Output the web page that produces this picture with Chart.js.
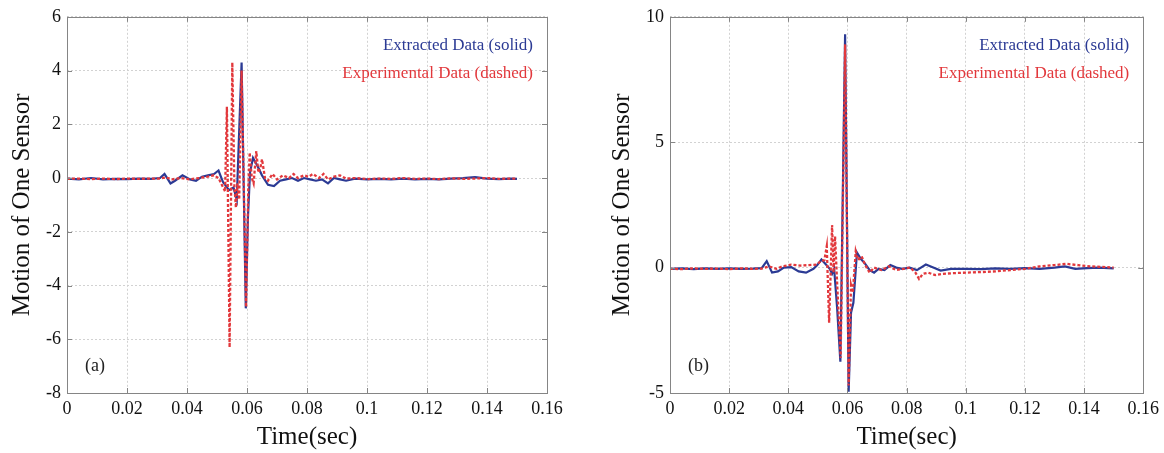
<!DOCTYPE html>
<html>
<head>
<meta charset="utf-8">
<title>Motion of One Sensor</title>
<script src="https://cdn.jsdelivr.net/npm/chart.js@4.4.0/dist/chart.umd.min.js"></script>
<style>
  body { margin: 0; background: #fff; }
  .panel { position: absolute; top: 0; width: 582px; height: 453px; }
  #panelA { left: 0; }
  #panelB { left: 582px; }
</style>
</head>
<body>
<div class="panel" id="panelA"><canvas id="chartA"></canvas></div>
<div class="panel" id="panelB"><canvas id="chartB"></canvas></div>
<script>
// tick values
const timeTicks = [0, 0.02, 0.04, 0.06, 0.08, 0.1, 0.12, 0.14, 0.16];
const yTicksA = [-8, -6, -4, -2, 0, 2, 4, 6];
const yTicksB = [-5, 0, 5, 10];
const legendText = ["Extracted Data (solid)", "Experimental Data (dashed)"];

// (a) extracted data, solid
const timeSolidA = [0, 0.004, 0.008, 0.012, 0.016, 0.02, 0.024, 0.028, 0.031, 0.0325, 0.0345, 0.036, 0.0385, 0.041, 0.043, 0.045, 0.047, 0.049, 0.0505, 0.052, 0.054, 0.0555, 0.0566, 0.0582, 0.0596, 0.0603, 0.061, 0.062, 0.0635, 0.065, 0.067, 0.069, 0.071, 0.073, 0.075, 0.077, 0.079, 0.081, 0.083, 0.085, 0.087, 0.089, 0.091, 0.093, 0.096, 0.1, 0.104, 0.108, 0.112, 0.116, 0.12, 0.124, 0.128, 0.132, 0.136, 0.14, 0.144, 0.148, 0.15];
const solidA = [-0.02, -0.05, 0.0, -0.05, -0.03, -0.04, -0.02, -0.03, 0.0, 0.15, -0.2, -0.1, 0.1, -0.05, -0.1, 0.05, 0.1, 0.15, 0.28, -0.15, -0.45, -0.35, -0.8, 4.3, -4.85, -1.5, 0.2, 0.75, 0.45, 0.1, -0.25, -0.3, -0.1, -0.05, 0.0, -0.1, 0.0, -0.05, -0.1, -0.05, -0.2, 0.0, -0.05, -0.1, -0.02, -0.05, -0.03, -0.05, -0.02, -0.05, -0.03, -0.05, -0.02, 0.0, 0.03, -0.02, -0.04, -0.02, -0.03];

// (a) experimental data, dashed
const timeDashedA = [0, 0.004, 0.008, 0.012, 0.016, 0.02, 0.024, 0.028, 0.031, 0.033, 0.035, 0.038, 0.041, 0.044, 0.047, 0.049, 0.0505, 0.0518, 0.0527, 0.0533, 0.0542, 0.0551, 0.0558, 0.0563, 0.0568, 0.0574, 0.0582, 0.0597, 0.0604, 0.0609, 0.0616, 0.0622, 0.0631, 0.0638, 0.0645, 0.065, 0.066, 0.067, 0.0685, 0.07, 0.072, 0.074, 0.0755, 0.077, 0.079, 0.0805, 0.082, 0.084, 0.0855, 0.087, 0.089, 0.091, 0.093, 0.096, 0.1, 0.104, 0.108, 0.112, 0.116, 0.12, 0.124, 0.128, 0.132, 0.136, 0.14, 0.144, 0.148, 0.15];
const dashedA = [-0.03, -0.02, -0.04, -0.02, -0.04, -0.02, -0.03, -0.02, -0.02, 0.02, -0.05, 0.0, -0.05, 0.0, 0.05, 0.1, 0.0, -0.3, -0.5, 2.65, -6.3, 4.3, -0.3, -1.1, -0.2, -0.8, 4.0, -4.8, -0.5, 0.95, 0.0, -0.2, 1.0, 0.2, 0.4, 0.7, 0.0, -0.1, 0.15, -0.05, 0.1, 0.0, 0.15, 0.0, 0.1, 0.05, 0.15, 0.0, 0.15, -0.05, 0.05, 0.1, -0.02, 0.0, -0.04, -0.02, -0.03, 0.0, -0.03, -0.02, -0.04, -0.01, -0.03, -0.02, 0.0, -0.03, -0.02, -0.02];

// (b) extracted data, solid
const timeSolidB = [0, 0.004, 0.008, 0.012, 0.016, 0.02, 0.024, 0.028, 0.031, 0.0327, 0.0345, 0.0365, 0.0385, 0.041, 0.0435, 0.046, 0.0485, 0.0498, 0.0512, 0.0525, 0.054, 0.0548, 0.0555, 0.0565, 0.0576, 0.0592, 0.0604, 0.0612, 0.062, 0.0632, 0.0645, 0.066, 0.0675, 0.069, 0.0705, 0.0725, 0.0745, 0.0765, 0.0785, 0.081, 0.0835, 0.0865, 0.089, 0.0915, 0.095, 0.1, 0.105, 0.11, 0.115, 0.12, 0.125, 0.13, 0.1335, 0.137, 0.141, 0.145, 0.15];
const solidB = [-0.05, -0.03, -0.06, -0.03, -0.05, -0.03, -0.05, -0.04, -0.02, 0.26, -0.2, -0.15, 0.0, 0.02, -0.15, -0.2, -0.05, 0.1, 0.32, 0.15, -0.05, -0.25, -0.05, -1.6, -3.75, 9.3, -4.95, -1.8, -1.4, 0.6, 0.35, 0.15, -0.1, -0.2, -0.05, -0.1, 0.1, 0.0, -0.05, 0.0, -0.1, 0.12, 0.0, -0.12, -0.05, -0.05, -0.06, -0.03, -0.05, -0.02, -0.05, 0.0, 0.05, -0.05, -0.02, 0.0, -0.03];

// (b) experimental data, dashed
const timeDashedB = [0, 0.004, 0.008, 0.012, 0.016, 0.02, 0.024, 0.028, 0.031, 0.0335, 0.036, 0.038, 0.041, 0.044, 0.047, 0.0495, 0.051, 0.0522, 0.053, 0.0538, 0.0548, 0.0553, 0.0558, 0.0565, 0.0577, 0.0592, 0.0604, 0.0612, 0.0618, 0.0628, 0.0636, 0.0648, 0.066, 0.0675, 0.069, 0.0715, 0.074, 0.0765, 0.079, 0.0812, 0.083, 0.0842, 0.0855, 0.0873, 0.0897, 0.092, 0.096, 0.1, 0.105, 0.11, 0.115, 0.12, 0.125, 0.13, 0.134, 0.138, 0.142, 0.146, 0.15];
const dashedB = [-0.05, -0.06, -0.03, -0.05, -0.04, -0.06, -0.03, -0.05, -0.04, 0.05, -0.05, 0.05, 0.12, 0.08, 0.1, 0.12, 0.25, 0.3, 0.85, -2.2, 1.7, -0.2, 1.25, -0.6, -3.6, 8.9, -4.7, -0.7, -1.0, 0.65, 0.3, 0.45, 0.1, -0.2, 0.0, -0.1, 0.05, -0.1, -0.05, 0.0, -0.2, -0.45, -0.25, -0.2, -0.3, -0.25, -0.22, -0.2, -0.18, -0.15, -0.1, -0.05, 0.05, 0.1, 0.15, 0.1, 0.05, 0.03, 0.0];

const blue = "#2b3a94";
const red = "#e2383c";
const serif = "'Liberation Serif', 'Times New Roman', serif";

const toPoints = function (times, values) {
  return times.map(function (t, i) {
    return { x: t, y: values[i] };
  });
};

// box around the plot, inward ticks, legend text and panel tag
const frameBox = {
  id: "frameBox",
  afterDraw: function (chart, args, opts) {
    const ctx = chart.ctx;
    const a = chart.chartArea;
    const sx = chart.scales.x;
    const sy = chart.scales.y;
    ctx.save();
    ctx.strokeStyle = "#858585";
    ctx.lineWidth = 1;
    ctx.strokeRect(Math.round(a.left) + 0.5, Math.round(a.top) + 0.5, Math.round(a.right - a.left), Math.round(a.bottom - a.top));
    ctx.beginPath();
    sx.ticks.forEach(function (t) {
      const px = Math.round(sx.getPixelForValue(t.value)) + 0.5;
      ctx.moveTo(px, a.bottom); ctx.lineTo(px, a.bottom - 5);
      ctx.moveTo(px, a.top); ctx.lineTo(px, a.top + 5);
    });
    sy.ticks.forEach(function (t) {
      const py = Math.round(sy.getPixelForValue(t.value)) + 0.5;
      ctx.moveTo(a.left, py); ctx.lineTo(a.left + 5, py);
      ctx.moveTo(a.right, py); ctx.lineTo(a.right - 5, py);
    });
    ctx.stroke();

    ctx.font = "17px " + serif;
    ctx.textAlign = "right";
    ctx.textBaseline = "middle";
    ctx.fillStyle = blue;
    ctx.fillText(legendText[0], a.right - 14, a.top + 29);
    ctx.fillStyle = red;
    ctx.fillText(legendText[1], a.right - 14, a.top + 57);

    ctx.font = "18px " + serif;
    ctx.textAlign = "left";
    ctx.fillStyle = "#222";
    ctx.fillText(opts.tag, a.left + 18, a.bottom - 27);
    ctx.restore();
  },
};

const makeChart = function (id, solid, dashed, yTicks, tag, yWidth, rightPad, titlePad) {
  const ctx = document.getElementById(id).getContext("2d");
  return new Chart(ctx, {
    type: "line",
    data: {
      datasets: [
        {
          label: legendText[1],
          data: dashed,
          borderColor: red,
          borderWidth: 2.3,
          borderDash: [3, 2],
          pointRadius: 0,
          tension: 0,
          order: 1,
        },
        {
          label: legendText[0],
          data: solid,
          borderColor: blue,
          borderWidth: 2.2,
          pointRadius: 0,
          tension: 0,
          order: 2,
        },
      ],
    },
    options: {
      responsive: true,
      maintainAspectRatio: false,
      animation: false,
      events: [],
      layout: { padding: { top: 15, right: rightPad, left: 0, bottom: 0 } },
      plugins: {
        legend: { display: false },
        tooltip: { enabled: false },
        frameBox: { tag: tag },
      },
      scales: {
        x: {
          type: "linear",
          min: timeTicks[0],
          max: timeTicks[timeTicks.length - 1],
          afterBuildTicks: function (s) {
            s.ticks = timeTicks.map(function (v) { return { value: v }; });
          },
          afterFit: function (s) { s.height = 60; },
          grid: { color: "#d2d2d2", drawTicks: false },
          border: { display: false, dash: [2, 2] },
          ticks: {
            padding: 5,
            color: "#111",
            autoSkip: false,
            maxRotation: 0,
            font: { family: serif, size: 18 },
            callback: function (v) { return String(+v.toFixed(2)); },
          },
          title: {
            display: true,
            text: "Time(sec)",
            color: "#111",
            font: { family: serif, size: 25 },
            padding: { top: 0, bottom: 1 },
          },
        },
        y: {
          type: "linear",
          min: yTicks[0],
          max: yTicks[yTicks.length - 1],
          afterBuildTicks: function (s) {
            s.ticks = yTicks.map(function (v) { return { value: v }; });
          },
          afterFit: function (s) { s.width = yWidth; },
          grid: { color: "#d2d2d2", drawTicks: false },
          border: { display: false, dash: [2, 2] },
          ticks: {
            padding: 6,
            color: "#111",
            autoSkip: false,
            font: { family: serif, size: 18 },
            callback: function (v) { return String(v); },
          },
          title: {
            display: true,
            text: "Motion of One Sensor",
            color: "#111",
            font: { family: serif, size: 25 },
            padding: { top: titlePad, bottom: 0 },
          },
        },
      },
    },
    plugins: [frameBox],
  });
};

makeChart("chartA", toPoints(timeSolidA, solidA), toPoints(timeDashedA, dashedA), yTicksA, "(a)", 67, 35, 7);
makeChart("chartB", toPoints(timeSolidB, solidB), toPoints(timeDashedB, dashedB), yTicksB, "(b)", 88, 16, 25);
</script>
</body>
</html>
